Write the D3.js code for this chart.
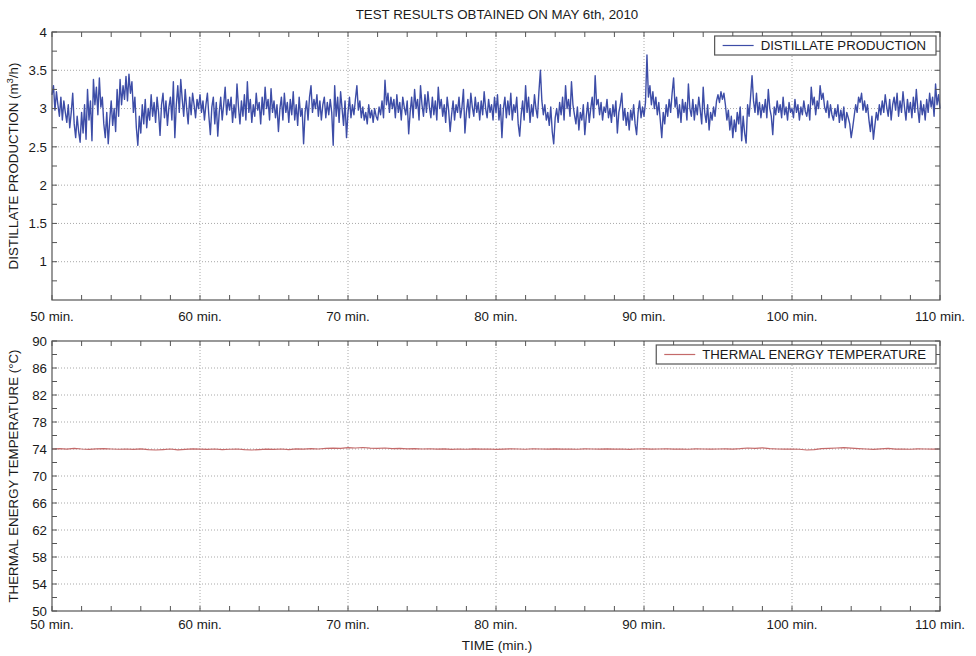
<!DOCTYPE html>
<html>
<head>
<meta charset="utf-8">
<script src="https://cdn.jsdelivr.net/npm/d3@7"></script>
<style>
  html, body { margin: 0; padding: 0; background: #fff; }
  svg { display: block; font-family: "Liberation Sans", Arial, Helvetica, sans-serif; }
</style>
</head>
<body>
<svg id="chart" width="976" height="656"></svg>
<script>
// Distillate production (m3/h), sampled every 0.1 min from 50 to 110 min
const distillateStart = 50;
const distillateStep = 0.1;
const distillate = [
  3.18, 3.30, 2.98, 3.22, 3.05, 2.90, 3.15, 2.85, 3.10, 2.95,
  2.82, 3.05, 2.75, 2.95, 3.20, 2.80, 2.62, 2.90, 2.70, 2.56,
  2.95, 2.68, 3.05, 2.60, 3.25, 2.85, 3.10, 2.58, 3.38, 3.05,
  3.28, 2.92, 3.40, 3.02, 3.15, 2.80, 2.62, 2.95, 2.54, 2.85,
  3.10, 2.78, 3.00, 2.70, 3.25, 2.90, 3.38, 3.05, 3.30, 3.12,
  3.42, 3.10, 3.45, 3.20, 3.35, 2.95, 3.15, 2.75, 2.52, 2.90,
  2.68, 3.05, 2.80, 3.12, 2.75, 3.00, 2.85, 3.18, 2.90, 3.08,
  2.82, 3.15, 2.95, 2.65, 3.05, 3.20, 2.88, 3.10, 2.78, 3.02,
  3.15, 2.85, 3.35, 2.62, 3.05, 3.30, 2.95, 3.38, 3.12, 2.90,
  3.25, 3.00, 2.80, 3.15, 2.92, 3.20, 3.05, 2.88, 3.12, 3.00,
  3.18, 2.95, 3.10, 2.85, 3.05, 3.20, 2.90, 2.66, 3.02, 3.15,
  2.80, 3.08, 2.64, 2.95, 3.15, 2.85, 3.05, 3.28, 2.92, 3.12,
  2.98, 3.15, 2.82, 3.05, 2.88, 3.32, 3.02, 2.80, 3.10, 2.90,
  3.18, 2.85, 3.35, 2.95, 3.12, 2.82, 3.05, 2.90, 3.20, 2.98,
  3.08, 2.80, 3.15, 2.92, 3.28, 3.00, 3.12, 2.85, 3.26, 2.95,
  3.10, 2.88, 3.05, 2.70, 3.00, 3.15, 2.85, 3.20, 2.95, 3.08,
  2.82, 3.12, 2.92, 3.22, 2.85, 3.05, 2.78, 3.15, 2.90, 3.00,
  2.54, 2.95, 3.10, 2.85, 3.15, 3.30, 2.95, 3.12, 3.00, 3.18,
  2.90, 3.10, 2.85, 3.05, 3.15, 2.88, 3.08, 2.92, 3.12, 2.95,
  2.52, 3.30, 2.90, 3.15, 2.82, 3.22, 3.00, 2.78, 3.10, 2.62,
  2.95, 3.15, 2.88, 3.05, 2.92, 3.12, 3.30, 2.98, 3.10, 2.88,
  3.02, 2.85, 2.95, 2.80, 3.05, 2.88, 2.98, 2.82, 3.00, 2.90,
  2.85, 3.02, 2.92, 3.10, 2.88, 3.37, 3.05, 3.20, 2.95, 3.15,
  3.00, 3.12, 2.88, 3.18, 2.95, 3.08, 2.85, 3.15, 3.02, 2.92,
  3.10, 2.67, 2.95, 3.15, 2.88, 3.25, 3.00, 3.12, 2.85, 3.30,
  3.05, 2.90, 3.18, 2.95, 3.22, 3.02, 2.88, 3.15, 2.92, 3.10,
  2.85, 3.28, 3.00, 3.12, 2.90, 3.05, 2.82, 3.15, 2.98, 2.70,
  2.92, 3.10, 2.85, 3.05, 2.95, 3.15, 2.88, 3.02, 3.25, 2.68,
  2.95, 3.12, 2.88, 3.20, 3.02, 2.90, 3.15, 2.95, 3.08, 2.85,
  3.10, 2.92, 3.22, 3.00, 2.88, 3.12, 2.95, 3.05, 2.85, 3.15,
  2.95, 3.18, 2.85, 3.05, 2.62, 3.00, 3.15, 2.88, 3.10, 2.92,
  3.20, 2.85, 3.05, 2.95, 3.15, 2.80, 2.64, 2.92, 3.10, 2.85,
  3.30, 2.95, 3.15, 2.82, 3.05, 2.90, 3.18, 3.00, 2.88, 3.22,
  3.50, 3.10, 2.92, 3.05, 2.85, 2.95, 2.78, 3.02, 2.70, 2.54,
  2.88, 3.00, 2.82, 3.08, 2.92, 3.15, 2.85, 3.30, 3.00, 3.12,
  2.90, 3.35, 3.05, 2.92, 2.80, 3.02, 2.72, 2.95, 2.85, 3.05,
  2.66, 2.90, 3.08, 2.82, 3.00, 3.15, 2.88, 3.43, 3.05, 3.12,
  2.92, 3.08, 2.85, 3.02, 2.95, 3.12, 2.88, 3.00, 2.82, 3.05,
  2.90, 3.10, 2.68, 2.95, 3.05, 3.20, 2.85, 3.00, 2.78, 2.95,
  2.72, 2.98, 2.85, 3.05, 2.80, 2.66, 2.95, 3.10, 2.88, 3.02,
  2.90, 3.08, 3.70, 3.15, 3.30, 3.05, 3.22, 3.00, 3.15, 2.92,
  3.08, 2.85, 2.62, 2.95, 2.80, 3.05, 2.90, 3.12, 2.95, 3.20,
  3.40, 3.02, 3.15, 2.88, 3.05, 2.82, 3.12, 2.95, 3.08, 2.85,
  3.32, 3.00, 2.90, 3.12, 2.85, 3.05, 2.92, 3.15, 2.98, 2.80,
  3.28, 2.95, 2.82, 3.05, 2.72, 2.95, 2.85, 3.02, 2.90, 3.10,
  3.18, 3.08, 3.22, 3.12, 3.20, 3.05, 2.85, 2.98, 2.72, 2.90,
  2.62, 2.85, 2.70, 2.95, 2.80, 3.02, 2.58, 2.90, 2.68, 2.55,
  3.05, 2.90, 3.15, 3.43, 3.10, 2.95, 3.20, 2.92, 3.08, 2.88,
  3.05, 2.95, 3.12, 2.88, 3.25, 3.00, 2.90, 2.66, 3.02, 2.92,
  3.10, 2.95, 3.05, 2.88, 3.15, 2.92, 3.02, 2.85, 3.08, 2.95,
  3.00, 2.88, 3.12, 2.95, 3.05, 2.85, 3.02, 2.92, 3.10, 2.96,
  2.90, 3.05, 2.85, 3.28, 3.05, 3.15, 2.92, 3.10, 3.00, 3.30,
  3.12, 3.20, 3.02, 2.95, 3.10, 2.88, 3.05, 2.92, 2.85, 3.00,
  2.90, 3.05, 2.82, 2.98, 2.85, 3.02, 2.75, 2.95, 2.88, 2.80,
  2.62, 2.75, 2.90, 3.05, 2.95, 3.15, 3.08, 3.20, 2.98, 3.10,
  2.95, 3.05, 2.85, 2.70, 2.90, 2.60, 2.78, 2.95, 2.85, 3.05,
  2.92, 3.10, 2.95, 3.18, 3.02, 2.90, 3.12, 2.85, 3.05, 3.15,
  2.98, 3.20, 2.90, 3.10, 2.95, 3.22, 3.02, 2.85, 3.12, 2.95,
  3.08, 2.88, 3.15, 2.95, 3.25, 3.00, 2.82, 3.10, 2.92, 3.05,
  2.85, 3.12, 2.95, 3.20, 3.02, 3.15, 2.90, 3.32, 3.05, 3.18,
  3.00
];

// Thermal energy temperature (°C), sampled every 0.5 min from 50 to 110 min
const temperatureStart = 50;
const temperatureStep = 0.5;
const temperature = [
  74.00, 74.05, 73.98, 74.08, 74.00, 73.95, 74.02, 74.06, 74.00, 73.96,
  74.00, 73.94, 74.02, 73.90, 73.85, 73.92, 74.00, 73.88, 73.95, 74.02,
  73.98, 73.95, 74.00, 73.92, 73.96, 74.00, 73.90, 73.85, 73.92, 73.98,
  73.95, 74.00, 73.92, 74.02, 73.98, 74.05, 74.00, 74.08, 74.12, 74.10,
  74.20, 74.15, 74.22, 74.12, 74.08, 74.15, 74.05, 74.10, 74.02, 74.06,
  74.00, 74.04, 73.98, 74.02, 73.95, 74.00, 73.96, 74.03, 73.98, 74.00,
  73.95, 73.98, 74.02, 74.00, 73.96, 74.04, 74.00, 73.97, 74.02, 73.98,
  74.00, 73.96, 74.03, 74.00, 73.97, 74.02, 73.98, 74.00, 73.95, 74.00,
  74.02, 73.98, 74.00, 74.04, 73.98, 74.00, 73.96, 74.02, 74.00, 73.98,
  74.00, 74.02, 73.98, 74.05, 74.15, 74.10, 74.18, 74.05, 74.00, 73.98,
  74.00, 73.96, 73.85, 73.92, 74.05, 74.10, 74.15, 74.20, 74.12, 74.05,
  74.00, 73.95, 74.02, 74.10, 73.98, 74.00, 73.96, 74.02, 74.00, 73.98,
  74.00
];

// Axis ticks and labels
const timeMajorTicks = [50, 60, 70, 80, 90, 100, 110];
const timeMinorTicks = d3.range(50, 110.01, 2);
const distillateTicks = [1, 1.5, 2, 2.5, 3, 3.5, 4];
const distillateMinorTicks = d3.range(0.75, 4.01, 0.25);
const temperatureTicks = [50, 54, 58, 62, 66, 70, 74, 78, 82, 86, 90];
const temperatureMinorTicks = d3.range(50, 90.01, 2);

const chartTitle = "TEST RESULTS OBTAINED ON MAY 6th, 2010";
const xTitle = "TIME (min.)";
const distillateLabel = "DISTILLATE PRODUCTION";
const temperatureLabel = "THERMAL ENERGY TEMPERATURE";

const svg = d3.select("#chart");
const axisColor = "#555";
const gridColor = "#a8a8a8";
const textColor = "#1a1a1a";

const left = 52, right = 940;

const x = d3.scaleLinear().domain([50, 110]).range([left, right]);

function drawPanel(cfg) {
  const y = d3.scaleLinear().domain(cfg.yDomain).range([cfg.bottom, cfg.top]);
  const g = svg.append("g");

  // dotted grid
  g.selectAll(".vgrid").data(timeMajorTicks.slice(1, -1)).join("line")
    .attr("x1", d => x(d)).attr("x2", d => x(d))
    .attr("y1", cfg.top).attr("y2", cfg.bottom)
    .attr("stroke", gridColor).attr("stroke-width", 1).attr("stroke-dasharray", "1,2");
  g.selectAll(".hgrid").data(cfg.yTicks.filter(v => v > cfg.yDomain[0] && v < cfg.yDomain[1])).join("line")
    .attr("x1", left).attr("x2", right)
    .attr("y1", d => y(d)).attr("y2", d => y(d))
    .attr("stroke", gridColor).attr("stroke-width", 1).attr("stroke-dasharray", "1,2");

  // data line
  const line = d3.line()
    .x((d, i) => x(cfg.start + i * cfg.step))
    .y(d => y(d));
  g.append("path").datum(cfg.values)
    .attr("d", line)
    .attr("fill", "none")
    .attr("stroke", cfg.color)
    .attr("stroke-width", cfg.width)
    .attr("stroke-linejoin", "round");

  // frame
  g.append("rect")
    .attr("x", left).attr("y", cfg.top)
    .attr("width", right - left).attr("height", cfg.bottom - cfg.top)
    .attr("fill", "none").attr("stroke", axisColor).attr("stroke-width", 1.2);

  // inward ticks on all four sides
  const tl = 5;
  const xt = g.append("g");
  timeMinorTicks.forEach(t => {
    xt.append("line").attr("x1", x(t)).attr("x2", x(t))
      .attr("y1", cfg.bottom).attr("y2", cfg.bottom - tl)
      .attr("stroke", axisColor);
    xt.append("line").attr("x1", x(t)).attr("x2", x(t))
      .attr("y1", cfg.top).attr("y2", cfg.top + tl)
      .attr("stroke", axisColor);
  });
  cfg.yMinor.forEach(v => {
    if (v < cfg.yDomain[0] || v > cfg.yDomain[1]) return;
    xt.append("line").attr("x1", left).attr("x2", left + tl)
      .attr("y1", y(v)).attr("y2", y(v)).attr("stroke", axisColor);
    xt.append("line").attr("x1", right).attr("x2", right - tl)
      .attr("y1", y(v)).attr("y2", y(v)).attr("stroke", axisColor);
  });

  // tick labels
  g.selectAll(".ylab").data(cfg.yTicks).join("text")
    .attr("x", left - 5).attr("y", d => y(d))
    .attr("dy", "0.35em")
    .attr("text-anchor", "end")
    .attr("font-size", 13.3).attr("fill", textColor)
    .text(d => d);
  g.selectAll(".xlab").data(timeMajorTicks).join("text")
    .attr("x", d => x(d)).attr("y", cfg.bottom + cfg.xLabelOffset)
    .attr("text-anchor", "middle")
    .attr("font-size", 13.3).attr("fill", textColor)
    .text(d => d + " min.");

  // y axis title
  const yt = g.append("text")
    .attr("transform", `translate(18,${(cfg.top + cfg.bottom) / 2}) rotate(-90)`)
    .attr("text-anchor", "middle")
    .attr("font-size", 13.3).attr("fill", textColor);
  cfg.yTitle(yt);

  // legend
  const lg = g.append("g");
  const txt = lg.append("text")
    .attr("font-size", 13.2).attr("fill", textColor)
    .text(cfg.legend);
  const tw = txt.node().getComputedTextLength();
  const boxRight = right - 4;
  const boxW = tw + 56;
  const boxX = boxRight - boxW;
  const boxY = cfg.top + 4, boxH = 19;
  lg.insert("rect", "text")
    .attr("x", boxX).attr("y", boxY).attr("width", boxW).attr("height", boxH)
    .attr("fill", "#fff").attr("stroke", axisColor).attr("stroke-width", 1.2);
  lg.append("line")
    .attr("x1", boxX + 8).attr("x2", boxX + 39)
    .attr("y1", boxY + boxH / 2).attr("y2", boxY + boxH / 2)
    .attr("stroke", cfg.color).attr("stroke-width", 1.2);
  txt.attr("x", boxX + 46).attr("y", boxY + boxH / 2).attr("dy", "0.36em");
}

drawPanel({
  top: 32, bottom: 300, yDomain: [0.5, 4],
  yTicks: distillateTicks, yMinor: distillateMinorTicks,
  values: distillate, start: distillateStart, step: distillateStep,
  color: "#3d4da7", width: 1.4,
  xLabelOffset: 21,
  legend: distillateLabel,
  yTitle: t => {
    t.append("tspan").text("DISTILLATE PRODUCTION (m");
    t.append("tspan").attr("font-size", 9.5).attr("dy", -5).text("3");
    t.append("tspan").attr("dy", 5).text("/h)");
  }
});

drawPanel({
  top: 341, bottom: 611, yDomain: [50, 90],
  yTicks: temperatureTicks, yMinor: temperatureMinorTicks,
  values: temperature, start: temperatureStart, step: temperatureStep,
  color: "#c46a6a", width: 1.2,
  xLabelOffset: 18,
  legend: temperatureLabel,
  yTitle: t => t.text("THERMAL ENERGY TEMPERATURE (°C)")
});

svg.append("text")
  .attr("x", 497).attr("y", 19)
  .attr("text-anchor", "middle")
  .attr("font-size", 13.3).attr("fill", textColor)
  .text(chartTitle);

svg.append("text")
  .attr("x", 497).attr("y", 650)
  .attr("text-anchor", "middle")
  .attr("font-size", 13.5).attr("fill", textColor)
  .text(xTitle);
</script>
</body>
</html>
